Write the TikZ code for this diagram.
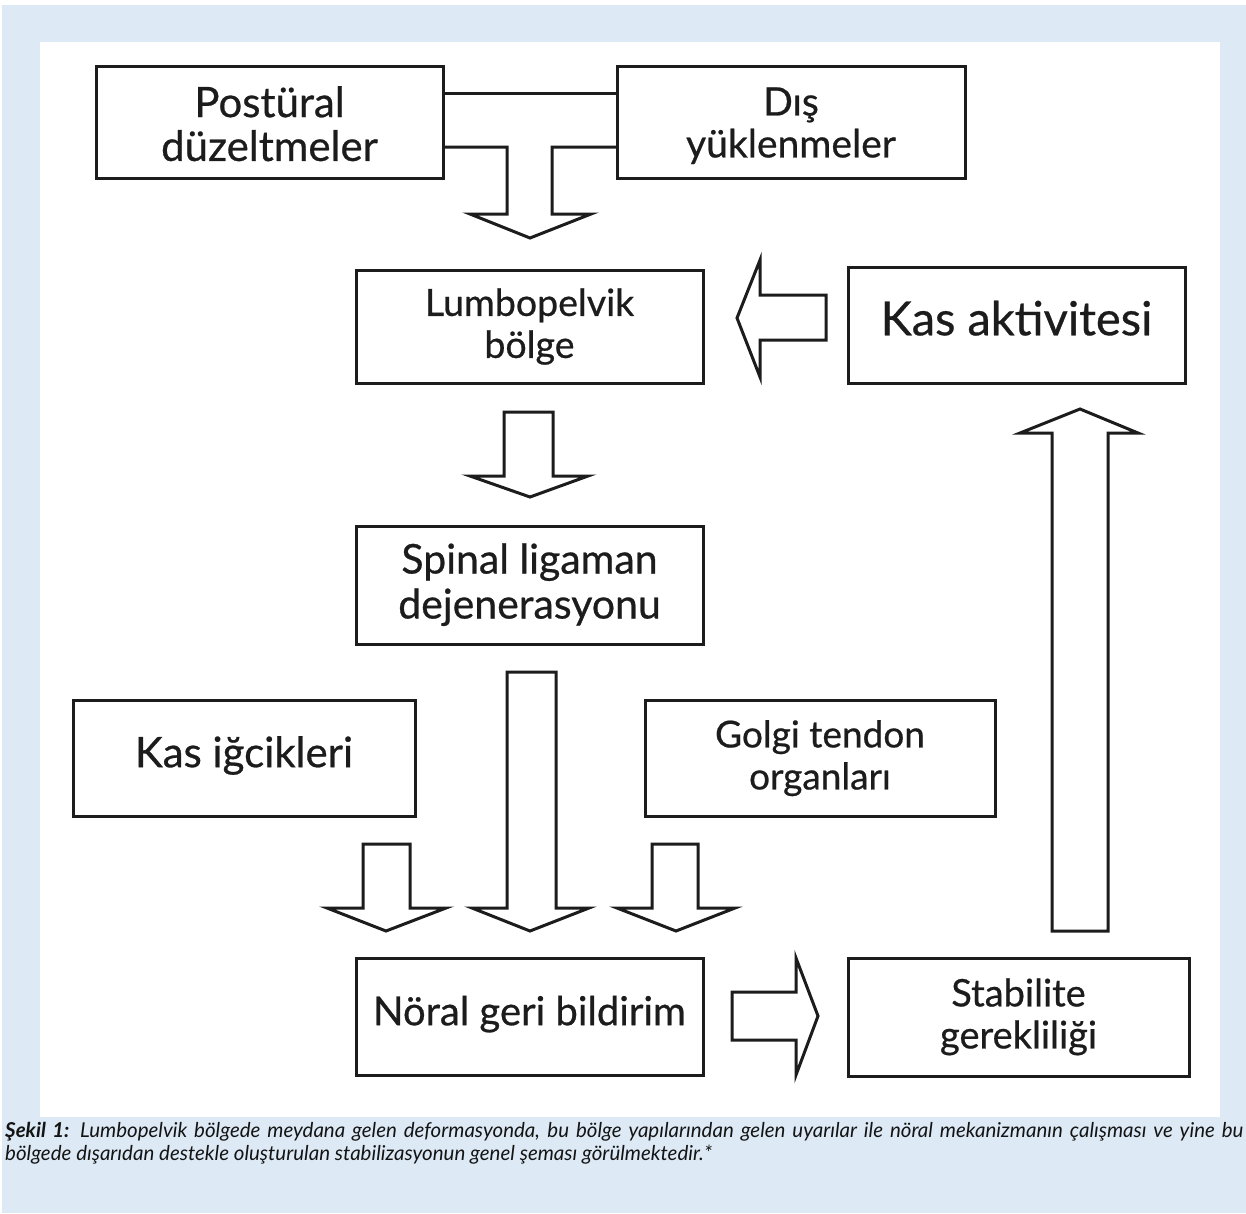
\documentclass[tikz,border=0pt]{standalone}
\usepackage{fontspec}
\setmainfont{Lato}
\newfontfamily\medfont{Lato}[FakeBold=0.6]
\usetikzlibrary{calc}
\definecolor{bgblue}{RGB}{221,234,245}
\definecolor{ink}{RGB}{28,28,28}
\definecolor{captxt}{RGB}{20,20,20}
% #1 font size, #2 line distance, #3 downward shift, #4 text
\newcommand\boxtxt[4]{\raisebox{-#3pt}[\height][\depth]{\medfont\fontsize{#1}{#2}\selectfont\begin{tabular}{@{}c@{}}#4\end{tabular}}}
\begin{document}
\begin{tikzpicture}[x=1pt,y=-1pt,
  blk/.style={draw=ink, line width=3pt, fill=white, rectangle, inner sep=0pt, outer sep=0pt, text=ink},
  fat/.style={draw=ink, line width=3pt, line join=miter, fill=white},
  captionline/.style={anchor=base west, inner sep=0pt, text=captxt, font=\fontsize{20.5}{22}\selectfont\itshape}]
\useasboundingbox (0,0) rectangle (1246,1213);
\fill[white] (0,0) rectangle (1246,1213);
\fill[bgblue] (2,5) rectangle (1246,1213);
\fill[white] (40,42) rectangle (1220,1117);
% boxes
\node[blk, minimum width=347pt, minimum height=112pt] (post) at (269.5,122) {\boxtxt{42}{43}{8}{Postüral\\düzeltmeler}};
\node[blk, minimum width=348pt, minimum height=112pt] (dis) at (791,122) {\boxtxt{39}{42}{6}{Dış\\yüklenmeler}};
\node[blk, minimum width=347pt, minimum height=113pt] (lumbo) at (529.5,326.5) {\boxtxt{37.5}{42}{2}{Lumbopelvik\\bölge}};
\node[blk, minimum width=337pt, minimum height=116pt] (kasakt) at (1016.5,325) {\boxtxt{47}{47}{0}{Kas aktivitesi}};
\node[blk, minimum width=347pt, minimum height=118pt] (spinal) at (529.5,585) {\boxtxt{41}{45}{2}{Spinal ligaman\\dejenerasyonu}};
\node[blk, minimum width=342pt, minimum height=116pt] (kasig) at (244,758) {\boxtxt{42}{42}{0}{Kas iğcikleri}};
\node[blk, minimum width=350pt, minimum height=116pt] (golgi) at (820,758) {\boxtxt{37}{42}{2}{Golgi tendon\\organları}};
\node[blk, minimum width=347pt, minimum height=117pt] (noral) at (529.5,1016.5) {\boxtxt{40}{40}{0}{Nöral geri bildirim}};
\node[blk, minimum width=341pt, minimum height=118pt] (stab) at (1018.5,1017) {\boxtxt{38}{42}{2}{Stabilite\\gerekliliği}};
% top link between the two upper boxes
\draw[ink, line width=3pt] (post.east |- 0,93) -- (dis.west |- 0,93);
% T-shaped merging arrow
\draw[fat] (post.east |- 0,147) -- (507,147) -- (507,214) -- (470,214) -- (530,238) -- (591,214) -- (552,214) -- (552,147) -- (dis.west |- 0,147);
% arrow lumbo -> spinal
\draw[fat] (504,412) -- (504,476) -- (470,476) -- (530,497) -- (588,476) -- (553,476) -- (553,412) -- cycle;
% long arrow spinal -> noral
\draw[fat] (507,672) -- (507,908) -- (472,908) -- (530,931) -- (589,908) -- (556,908) -- (556,672) -- cycle;
% small arrow kas igcikleri
\draw[fat] (363,844) -- (363,908) -- (327,908) -- (386,931) -- (446,908) -- (410,908) -- (410,844) -- cycle;
% small arrow golgi
\draw[fat] (652,844) -- (652,908) -- (617,908) -- (676,931) -- (735,908) -- (698,908) -- (698,844) -- cycle;
% right arrow noral -> stab
\draw[fat] (732,992) -- (796,992) -- (796,958) -- (818,1016) -- (796,1075) -- (796,1040) -- (732,1040) -- cycle;
% up arrow stab -> kas aktivitesi
\draw[fat] (1052,931) -- (1052,433) -- (1020,433) -- (1080,409) -- (1138,433) -- (1108,433) -- (1108,931) -- cycle;
% left arrow kas aktivitesi -> lumbo
\draw[fat] (826,295) -- (760,295) -- (760,260) -- (737,318) -- (760,377) -- (760,340) -- (826,340) -- cycle;
% caption
\node[captionline] (cap1) at (5,1137) {\makebox[1238pt][s]{{\bfseries Şekil 1:} Lumbopelvik bölgede meydana gelen deformasyonda, bu bölge yapılarından gelen uyarılar ile nöral mekanizmanın çalışması ve yine bu}};
\node[captionline] (cap2) at (5,1160) {bölgede dışarıdan destekle oluşturulan stabilizasyonun genel şeması görülmektedir.*};
\end{tikzpicture}
\end{document}
